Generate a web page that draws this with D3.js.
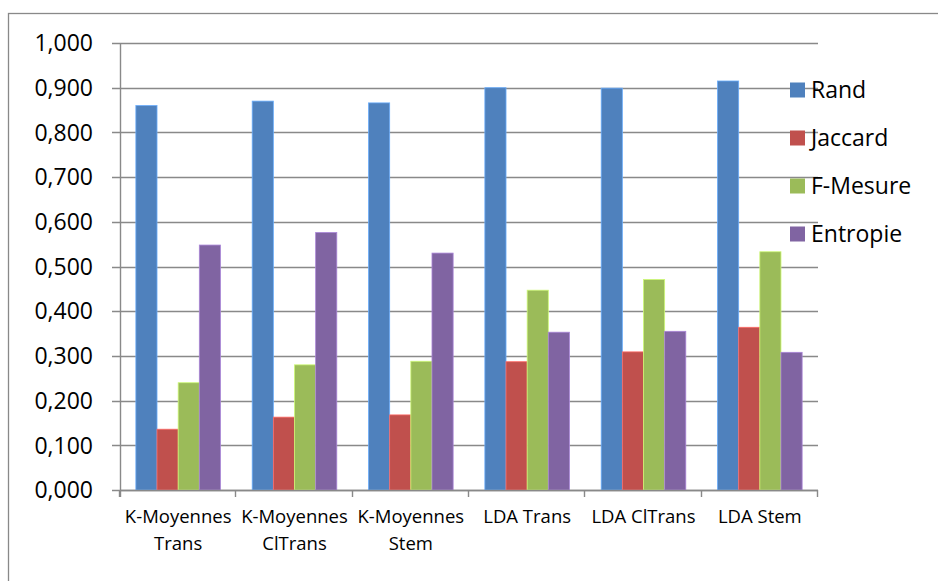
<!DOCTYPE html>
<html>
<head>
<meta charset="utf-8">
<script src="https://cdn.jsdelivr.net/npm/d3@7"></script>
<style>
  html, body { margin: 0; padding: 0; background: #fff; }
  svg { display: block; }
  text { font-family: "Open Sans", "Lato", sans-serif; fill: #000; }
</style>
</head>
<body>
<svg id="chart" width="938" height="581"></svg>
<script>
// Clustering evaluation scores per method
const categories = [
  ["K-Moyennes", "Trans"],
  ["K-Moyennes", "ClTrans"],
  ["K-Moyennes", "Stem"],
  ["LDA Trans"],
  ["LDA ClTrans"],
  ["LDA Stem"]
];
const seriesNames = ["Rand", "Jaccard", "F-Mesure", "Entropie"];
const seriesColors = ["#4F81BD", "#C0504D", "#9BBB59", "#8064A2"];
const rand     = [0.860, 0.870, 0.866, 0.900, 0.899, 0.915];
const jaccard  = [0.136, 0.163, 0.168, 0.287, 0.309, 0.364];
const fMesure  = [0.240, 0.280, 0.288, 0.447, 0.471, 0.533];
const entropie = [0.548, 0.576, 0.530, 0.353, 0.355, 0.308];
const yTicks = [0, 0.1, 0.2, 0.3, 0.4, 0.5, 0.6, 0.7, 0.8, 0.9, 1.0];

const seriesValues = [rand, jaccard, fMesure, entropie];
const catKeys = categories.map(c => c.join(" "));

const svg = d3.select("#chart");
const gridColor = "#898989";

// Outer chart frame
svg.append("rect")
  .attr("x", 8.5).attr("y", 13.5)
  .attr("width", 940).attr("height", 580)
  .attr("fill", "none").attr("stroke", gridColor).attr("stroke-width", 1.3);

const plot = { left: 120, right: 818, top: 43, bottom: 490 };

const y = d3.scaleLinear().domain([0, 1]).range([plot.bottom, plot.top]);
const x = d3.scaleBand().domain(catKeys).range([plot.left, plot.right]).padding(0);
const xs = d3.scaleBand().domain(seriesNames).range([0, x.bandwidth()])
  .paddingInner(0).paddingOuter(0.75);

const fmt = v => d3.format(".3f")(v).replace(".", ",");

// Horizontal gridlines with left tick stubs
svg.append("g").selectAll("line")
  .data(yTicks).join("line")
  .attr("x1", plot.left - 8).attr("x2", plot.right)
  .attr("y1", d => Math.round(y(d)) + 0.5).attr("y2", d => Math.round(y(d)) + 0.5)
  .attr("stroke", gridColor).attr("stroke-width", 1.4);

// Y labels
svg.append("g").selectAll("text")
  .data(yTicks).join("text")
  .attr("x", 93).attr("y", d => y(d))
  .attr("dy", "0.36em")
  .attr("text-anchor", "end")
  .style("font-size", "23px")
  .text(fmt);

// Bars
const groups = svg.append("g").selectAll("g")
  .data(categories.map((c, i) => i)).join("g")
  .attr("transform", i => `translate(${x(catKeys[i])},0)`);

groups.selectAll("rect")
  .data(i => seriesNames.map((s, k) => ({ s, k, v: seriesValues[k][i] })))
  .join("rect")
  .attr("x", d => xs(d.s))
  .attr("width", xs.bandwidth())
  .attr("y", d => y(d.v))
  .attr("height", d => y(0) - y(d.v))
  .attr("fill", d => seriesColors[d.k])
  .attr("stroke", d => d3.color(seriesColors[d.k]).brighter(0.8))
  .attr("stroke-width", 0.8);

// Axis lines
svg.append("line")
  .attr("x1", plot.left + 0.5).attr("x2", plot.left + 0.5)
  .attr("y1", plot.top).attr("y2", plot.bottom + 7)
  .attr("stroke", gridColor).attr("stroke-width", 1.4);
svg.append("line")
  .attr("x1", plot.left).attr("x2", plot.right)
  .attr("y1", plot.bottom + 0.5).attr("y2", plot.bottom + 0.5)
  .attr("stroke", gridColor).attr("stroke-width", 1.4);

// Category boundary ticks
const bounds = catKeys.map(k => x(k)).concat([plot.right]);
svg.append("g").selectAll("line")
  .data(bounds).join("line")
  .attr("x1", d => Math.round(d) - 0.5).attr("x2", d => Math.round(d) - 0.5)
  .attr("y1", plot.bottom).attr("y2", plot.bottom + 7)
  .attr("stroke", gridColor).attr("stroke-width", 1.4);

// Category labels
const catLabels = svg.append("g").selectAll("text")
  .data(categories).join("text")
  .attr("x", (c, i) => x(catKeys[i]) + x.bandwidth() / 2)
  .attr("y", 523)
  .attr("text-anchor", "middle")
  .style("font-size", "18.5px");
catLabels.selectAll("tspan")
  .data(c => c).join("tspan")
  .attr("x", function () { return d3.select(this.parentNode).attr("x"); })
  .attr("dy", (d, j) => j === 0 ? 0 : 27)
  .text(d => d);

// Legend
const legend = svg.append("g").selectAll("g")
  .data(seriesNames).join("g")
  .attr("transform", (d, k) => `translate(790,${90 + k * 48})`);
legend.append("rect")
  .attr("x", 0).attr("y", -7.5).attr("width", 15).attr("height", 15)
  .attr("fill", (d, k) => seriesColors[k]);
legend.append("text")
  .attr("x", 21).attr("y", 0).attr("dy", "0.36em")
  .style("font-size", "23px")
  .text(d => d);
</script>
</body>
</html>
